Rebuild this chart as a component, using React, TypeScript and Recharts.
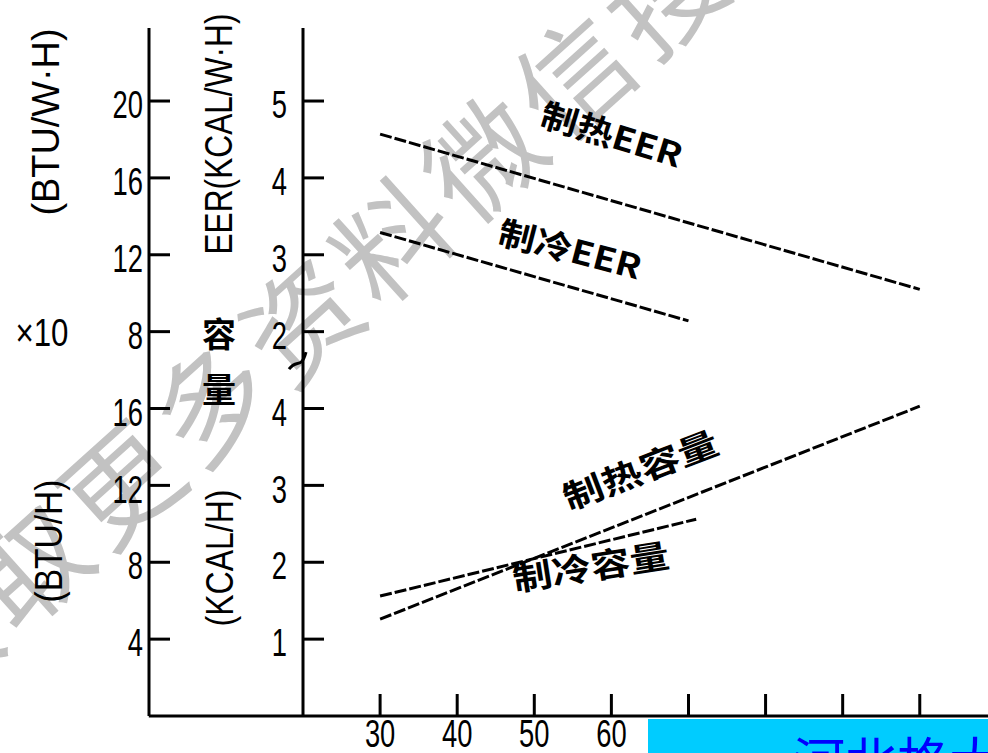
import { LineChart, Line, XAxis, YAxis, ReferenceLine, ReferenceDot } from "recharts";

// outdoor temperature ticks (°F); only the first few labels are not covered by the stamp
const tempTicks = [30, 40, 50, 60, 70, 80, 90, 100];
const tempLabels = [30, 40, 50, 60];

// one shared y scale; the top half (EER) sits above a scale break
const axisTicks = [1, 2, 3, 4, 5, 6, 7, 8];
const btuTickLabels = ["4", "8", "12", "16", "8", "12", "16", "20"];
const kcalTickLabels = ["1", "2", "3", "4", "2", "3", "4", "5"];
const EER_SHIFT = 3; // EER 2 sits where capacity 5 would be

const heatEerTemp = [30, 100];
const heatEer = [4.57, 2.55];
const coolEerTemp = [30, 70];
const coolEer = [3.29, 2.14];

const heatCapTemp = [30, 100];
const heatCap = [1.26, 4.03];
const coolCapTemp = [30, 71];
const coolCap = [1.56, 2.56];

const toPoints = (xs: number[], ys: number[], shift = 0) =>
  xs.map((x, i) => ({ x, y: ys[i] + shift }));

const heatEerData = toPoints(heatEerTemp, heatEer, EER_SHIFT);
const coolEerData = toPoints(coolEerTemp, coolEer, EER_SHIFT);
const heatCapData = toPoints(heatCapTemp, heatCap);
const coolCapData = toPoints(coolCapTemp, coolCap);

const notes = [
  { text: "制热EER", x: 60.1, y: 7.58, angle: 17, len: 146 },
  { text: "制冷EER", x: 54.7, y: 6.09, angle: 14.5, len: 146 },
  { text: "制热容量", x: 63.7, y: 3.22, angle: -21, len: 163 },
  { text: "制冷容量", x: 57.3, y: 1.96, angle: -9, len: 158 },
];

const LATIN = "'Liberation Sans', Arial, sans-serif";
const CJK = "'Noto Sans CJK SC', sans-serif";

function YTick(props: any) {
  const { x, y, payload, labels, gap } = props;
  const i = axisTicks.indexOf(payload.value);
  return (
    <g>
      <line x1={x} y1={y} x2={x + 21} y2={y} stroke="#000" strokeWidth={3} />
      <text
        transform={`translate(${x - gap},${y + 4}) scale(0.72,1)`}
        textAnchor="end"
        dominantBaseline="central"
        fontSize={38}
        fontFamily={LATIN}
        fill="#000"
      >
        {labels[i]}
      </text>
    </g>
  );
}

const btuTick = (p: any) => <YTick {...p} labels={btuTickLabels} gap={6} />;
const kcalTick = (p: any) => <YTick {...p} labels={kcalTickLabels} gap={16} />;

function XTick(props: any) {
  const { x, y, payload } = props;
  return (
    <g>
      <line x1={x} y1={y} x2={x} y2={y - 22} stroke="#000" strokeWidth={3} />
      {tempLabels.includes(payload.value) && (
        <text
          transform={`translate(${x},${y + 31}) scale(0.72,1)`}
          textAnchor="middle"
          fontSize={38}
          fontFamily={LATIN}
          fill="#000"
        >
          {payload.value}
        </text>
      )}
    </g>
  );
}

function BreakMark(props: any) {
  const { cx, cy } = props;
  return (
    <path
      d={`M ${cx - 14} ${cy + 9} C ${cx - 6} ${cy - 2}, ${cx - 2} ${cy + 10}, ${cx + 3} ${cy - 8}`}
      fill="none"
      stroke="#000"
      strokeWidth={3}
    />
  );
}

function NoteText(props: any) {
  const { cx, cy, note } = props;
  return (
    <text
      transform={`translate(${cx},${cy}) rotate(${note.angle})`}
      textAnchor="middle"
      dominantBaseline="central"
      fontSize={33}
      fontWeight={700}
      fontFamily={CJK}
      textLength={note.len}
      lengthAdjust="spacingAndGlyphs"
      fill="#000"
    >
      {note.text}
    </text>
  );
}

function Title({ x, y, text, len, rotate = -90 }: any) {
  return (
    <text
      transform={`translate(${x},${y}) rotate(${rotate})`}
      textAnchor="middle"
      dominantBaseline="central"
      fontSize={38}
      fontFamily={LATIN}
      textLength={len}
      lengthAdjust="spacingAndGlyphs"
      fill="#000"
    >
      {text}
    </text>
  );
}

const axisLineStyle = { stroke: "#000", strokeWidth: 3 };
const yDomain = [0, 8.95];
const xDomain = [20, 108.85];
const segBottomLeft = [
  { x: 0, y: 0 },
  { x: 20, y: 0 },
];
const chartMargin = { top: 28, right: 0, bottom: 0, left: 0 };

const lineStyle = {
  stroke: "#000",
  strokeWidth: 3,
  strokeDasharray: "12 3",
  dot: false,
  type: "linear" as const,
  yAxisId: "inner",
  dataKey: "y",
  isAnimationActive: false,
};

export default function App() {
  return (
    <div
      style={{
        position: "absolute",
        left: 0,
        top: 0,
        width: 988,
        height: 753,
        overflow: "hidden",
        background: "#fff",
      }}
    >
      {/* watermark */}
      <svg width={988} height={753} style={{ position: "absolute", left: 0, top: 0 }}>
        <text
          x={-165}
          y={800}
          transform="rotate(-42 -165 800)"
          fontSize={114}
          letterSpacing={8}
          fontFamily={CJK}
          fill="#c2c2c2"
        >
          （获取更多资料微信搜
        </text>
      </svg>

      <div style={{ position: "absolute", left: 0, top: 0 }}>
        <LineChart width={988} height={753} margin={chartMargin}>
          <XAxis
            type="number"
            dataKey="x"
            domain={xDomain}
            allowDataOverflow
            ticks={tempTicks}
            interval={0}
            height={37}
            tickSize={0}
            tickMargin={0}
            tickLine={false}
            axisLine={axisLineStyle}
            tick={XTick}
          />
          {/* inner axis: KCAL scale, sits at temperature 20 */}
          <YAxis
            yAxisId="inner"
            type="number"
            domain={yDomain}
            allowDataOverflow
            ticks={axisTicks}
            interval={0}
            width={154}
            tickSize={0}
            tickMargin={0}
            tickLine={false}
            axisLine={axisLineStyle}
            tick={kcalTick}
          />
          {/* outer axis: BTU scale */}
          <YAxis
            yAxisId="outer"
            type="number"
            domain={yDomain}
            allowDataOverflow
            ticks={axisTicks}
            interval={0}
            width={149}
            tickSize={0}
            tickMargin={0}
            tickLine={false}
            axisLine={axisLineStyle}
            tick={btuTick}
          />
          <ReferenceLine
            yAxisId="inner"
            segment={segBottomLeft}
            ifOverflow="visible"
            stroke="#000"
            strokeWidth={3}
          />
          <ReferenceDot yAxisId="inner" x={20} y={4.63} ifOverflow="visible" shape={BreakMark} />

          <Line {...lineStyle} data={heatEerData} />
          <Line {...lineStyle} data={coolEerData} />
          <Line {...lineStyle} data={heatCapData} />
          <Line {...lineStyle} data={coolCapData} />

          {notes.map((n) => (
            <ReferenceDot
              key={n.text}
              yAxisId="inner"
              x={n.x}
              y={n.y}
              ifOverflow="visible"
              shape={(p: any) => <NoteText {...p} note={n} />}
            />
          ))}
        </LineChart>
      </div>

      <svg width={988} height={753} style={{ position: "absolute", left: 0, top: 0, pointerEvents: "none" }}>
        <Title x={46} y={122} text="(BTU/W·H)" len={187} />
        <Title x={49} y={541} text="(BTU/H)" len={123} />
        <Title x={219} y={134} text="EER(KCAL/W·H)" len={241} />
        <Title x={220} y={558} text="(KCAL/H)" len={137} />
        <Title x={42} y={333} text="×10" len={53} rotate={0} />
        <text x={219} y={332} textAnchor="middle" dominantBaseline="central" fontSize={34} fontWeight={700} fontFamily={CJK}>
          容
        </text>
        <text x={219} y={387} textAnchor="middle" dominantBaseline="central" fontSize={34} fontWeight={700} fontFamily={CJK}>
          量
        </text>
        <rect x={648} y={719} width={340} height={34} fill="#00ccff" />
        <text x={793} y={781} fontSize={52} fill="#0000ff" fontFamily={CJK}>
          河北格大
        </text>
      </svg>
    </div>
  );
}
